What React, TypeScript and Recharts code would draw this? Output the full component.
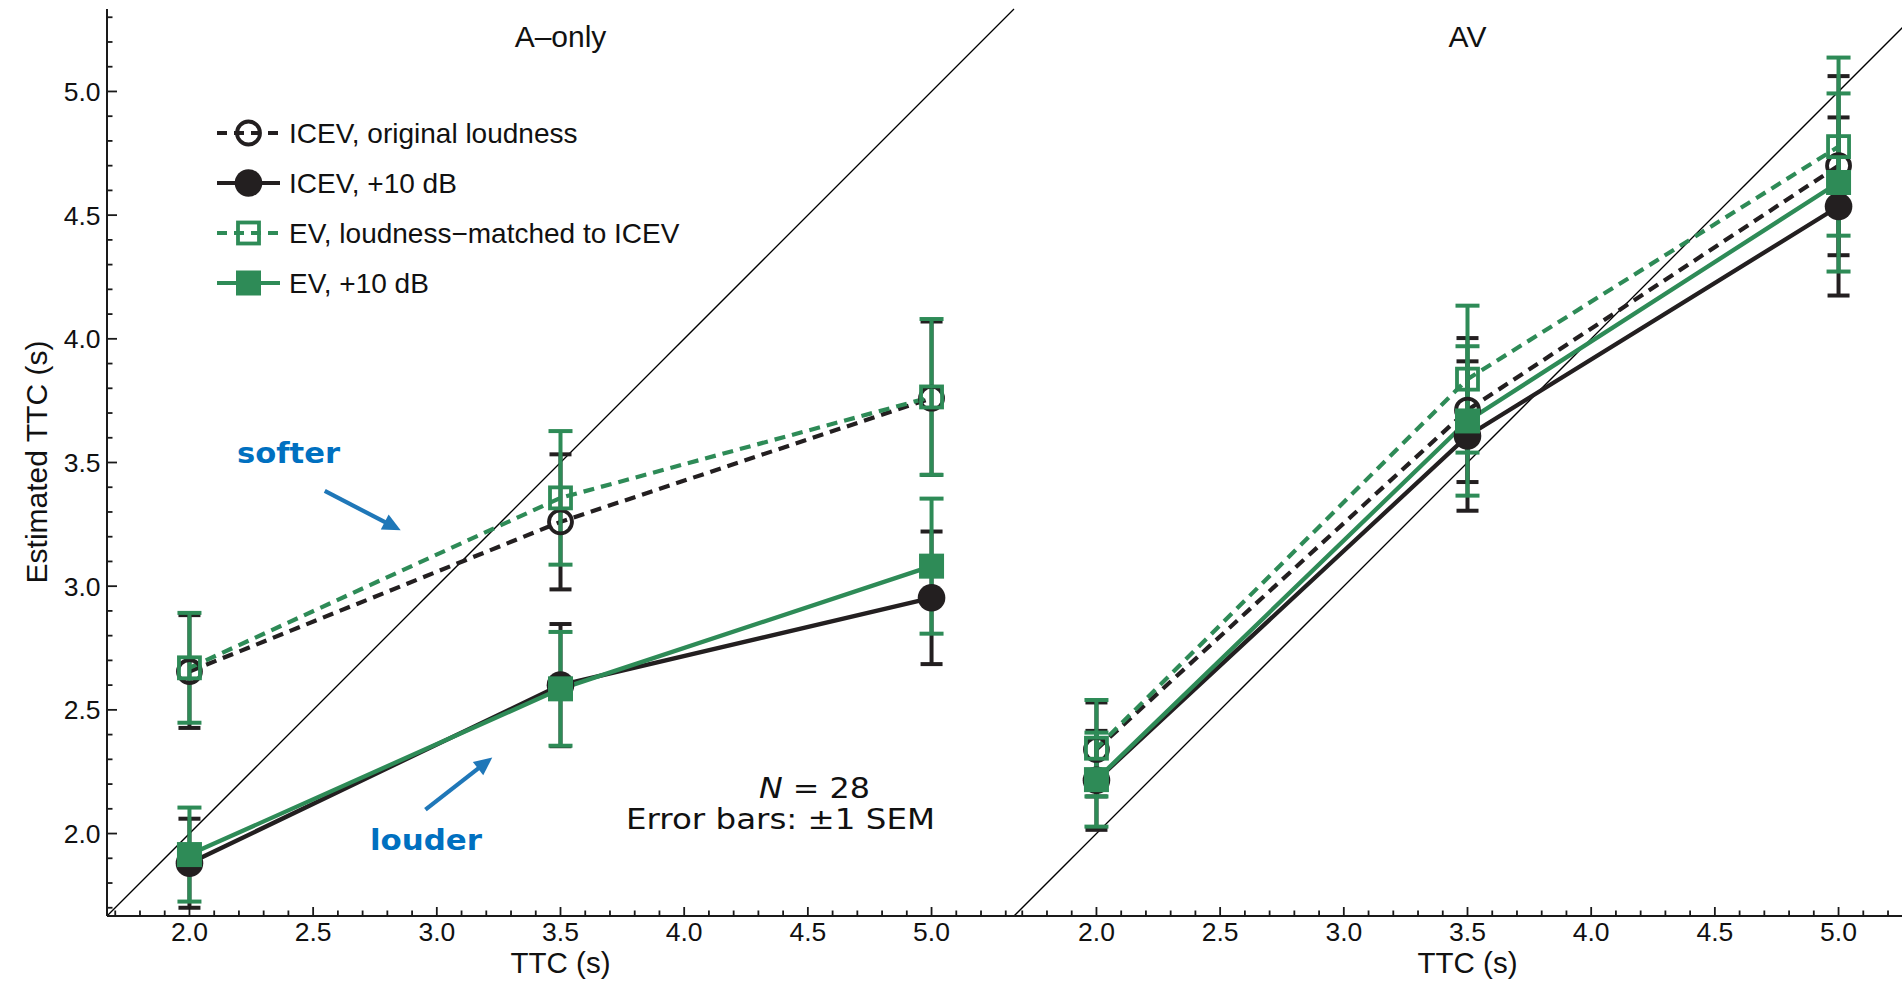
import React from 'react';
import { LineChart, Line, XAxis, YAxis, ErrorBar, ReferenceLine, Legend } from 'recharts';

// ---------- data ----------
const TTC_LEVELS = [2.0, 3.5, 5.0];

// A-only panel (means and ±1 SEM)
const A_ICEV_ORIG = [2.655, 3.26, 3.76];
const A_ICEV_ORIG_SEM = [0.228, 0.273, 0.31];
const A_ICEV_LOUD = [1.88, 2.6, 2.953];
const A_ICEV_LOUD_SEM = [0.18, 0.247, 0.268];
const A_EV_MATCH = [2.67, 3.357, 3.765];
const A_EV_MATCH_SEM = [0.222, 0.27, 0.315];
const A_EV_LOUD = [1.915, 2.585, 3.081];
const A_EV_LOUD_SEM = [0.19, 0.23, 0.273];

// AV panel
const AV_ICEV_ORIG = [2.34, 3.712, 4.7];
const AV_ICEV_ORIG_SEM = [0.19, 0.291, 0.362];
const AV_ICEV_LOUD = [2.215, 3.607, 4.535];
const AV_ICEV_LOUD_SEM = [0.2, 0.302, 0.36];
const AV_EV_MATCH = [2.345, 3.837, 4.777];
const AV_EV_MATCH_SEM = [0.195, 0.297, 0.36];
const AV_EV_LOUD = [2.218, 3.668, 4.632];
const AV_EV_LOUD_SEM = [0.19, 0.302, 0.36];

const AXIS_TICKS = [
  1.7, 1.8, 1.9, 2.0, 2.1, 2.2, 2.3, 2.4, 2.5, 2.6, 2.7, 2.8, 2.9, 3.0, 3.1, 3.2, 3.3, 3.4, 3.5,
  3.6, 3.7, 3.8, 3.9, 4.0, 4.1, 4.2, 4.3, 4.4, 4.5, 4.6, 4.7, 4.8, 4.9, 5.0, 5.1, 5.2, 5.3,
];
const MAJOR_TICKS = [2.0, 2.5, 3.0, 3.5, 4.0, 4.5, 5.0];
const DOMAIN: [number, number] = [5 / 3, 16 / 3];

const SERIES_NAMES = ['ICEV, original loudness', 'ICEV, +10 dB', 'EV, loudness\u2212matched to ICEV', 'EV, +10 dB'];
const PANEL_TITLES = ['A\u2013only', 'AV'];
const AXIS_TITLE_X = 'TTC (s)';
const AXIS_TITLE_Y = 'Estimated TTC (s)';

// annotation arrows (data coordinates of A-only panel): tail -> tip
const SOFTER_ARROW = [{ x: 2.547, y: 3.385 }, { x: 2.854, y: 3.226 }];
const LOUDER_ARROW = [{ x: 2.954, y: 2.097 }, { x: 3.224, y: 2.307 }];

// ---------- styles ----------
const DARK = '#231f20';
const GREEN = '#2e8b57';
const BLUE_TEXT = '#0070c0';
const BLUE_ARROW = '#1f77b8';
const SANS = '"Liberation Sans", Arial, Helvetica, sans-serif';
const VERD = '"DejaVu Sans", Verdana, sans-serif';

type MarkerKind = 'openCircle' | 'filledCircle' | 'openSquare' | 'filledSquare';

const SERIES_STYLE: { color: string; dashed: boolean; marker: MarkerKind; cap: number }[] = [
  { color: DARK, dashed: true, marker: 'openCircle', cap: 11 },
  { color: DARK, dashed: false, marker: 'filledCircle', cap: 11 },
  { color: GREEN, dashed: true, marker: 'openSquare', cap: 12 },
  { color: GREEN, dashed: false, marker: 'filledSquare', cap: 12 },
];

const DASH = '11 7';

function Marker({ kind, cx, cy, color }: { kind: MarkerKind; cx: number; cy: number; color: string }) {
  if (cx == null || cy == null || isNaN(cx) || isNaN(cy)) return null;
  switch (kind) {
    case 'openCircle':
      return <circle cx={cx} cy={cy} r={11.5} fill="none" stroke={color} strokeWidth={3.8} />;
    case 'filledCircle':
      return <circle cx={cx} cy={cy} r={13.8} fill={color} stroke="none" />;
    case 'openSquare':
      return <rect x={cx - 10.5} y={cy - 10.5} width={21} height={21} fill="none" stroke={color} strokeWidth={3.8} />;
    default:
      return <rect x={cx - 12.5} y={cy - 12.5} width={25} height={25} fill={color} stroke="none" />;
  }
}

const isMajor = (v: number) => MAJOR_TICKS.some((m) => Math.abs(m - v) < 1e-6);
const MAJ = 9;
const MIN = 5.5;
const TICK_STROKE = { stroke: '#1a1a1a', strokeWidth: 1.8 };
const AXIS_LINE = { stroke: '#1a1a1a', strokeWidth: 2 };

const BottomTick = (p: any) => {
  const v = p.payload.value;
  const maj = isMajor(v);
  return (
    <g>
      <line x1={p.x} y1={p.y} x2={p.x} y2={p.y - (maj ? MAJ : MIN)} {...TICK_STROKE} />
      {maj && (
        <text x={p.x} y={p.y + 25} textAnchor="middle" fontSize={26.5} fontFamily={SANS} fill="#111">
          {v.toFixed(1)}
        </text>
      )}
    </g>
  );
};
const TopTick = (p: any) => {
  const maj = isMajor(p.payload.value);
  return <line x1={p.x} y1={p.y} x2={p.x} y2={p.y + (maj ? MAJ : MIN)} {...TICK_STROKE} />;
};
const LeftTickLabeled = (p: any) => {
  const v = p.payload.value;
  const maj = isMajor(v);
  return (
    <g>
      <line x1={p.x} y1={p.y} x2={p.x + (maj ? MAJ + 1 : MIN)} y2={p.y} {...TICK_STROKE} />
      {maj && (
        <text x={p.x - 6.5} y={p.y + 9.5} textAnchor="end" fontSize={26.5} fontFamily={SANS} fill="#111">
          {v.toFixed(1)}
        </text>
      )}
    </g>
  );
};
const LeftTick = (p: any) => {
  const maj = isMajor(p.payload.value);
  return <line x1={p.x} y1={p.y} x2={p.x + (maj ? MAJ + 1 : MIN)} y2={p.y} {...TICK_STROKE} />;
};
const RightTick = (p: any) => {
  const maj = isMajor(p.payload.value);
  return <line x1={p.x} y1={p.y} x2={p.x - (maj ? MAJ + 1 : MIN)} y2={p.y} {...TICK_STROKE} />;
};

const ArrowShape = (p: any) => {
  const { x1, y1, x2, y2 } = p;
  if ([x1, y1, x2, y2].some((v) => v == null || isNaN(v))) return null;
  const dx = x2 - x1;
  const dy = y2 - y1;
  const L = Math.hypot(dx, dy) || 1;
  const ux = dx / L;
  const uy = dy / L;
  const head = 18;
  const hw = 8.5;
  const bx = x2 - ux * head;
  const by = y2 - uy * head;
  return (
    <g>
      <line x1={x1} y1={y1} x2={bx + ux * 2} y2={by + uy * 2} stroke={BLUE_ARROW} strokeWidth={4.2} />
      <polygon points={`${x2},${y2} ${bx - uy * hw},${by + ux * hw} ${bx + uy * hw},${by - ux * hw}`} fill={BLUE_ARROW} />
    </g>
  );
};

const LegendContent = (props: any) => {
  const payload: any[] = props.payload && props.payload.length ? props.payload : [];
  const names = SERIES_NAMES.filter((n) => payload.length === 0 || payload.some((e) => e.value === n));
  return (
    <svg width={520} height={200} style={{ display: 'block', overflow: 'visible' }}>
      {names.map((name, i) => {
        const st = SERIES_STYLE[SERIES_NAMES.indexOf(name)];
        const cy = 25 + i * 50;
        return (
          <g key={name}>
            <line x1={17} y1={cy} x2={80} y2={cy} stroke={st.color} strokeWidth={4} strokeDasharray={st.dashed ? '10 7' : undefined} />
            <Marker kind={st.marker} cx={48.5} cy={cy} color={st.color} />
            <text x={89} y={cy + 10} fontSize={28} fontFamily={SANS} fill="#111">
              {name}
            </text>
          </g>
        );
      })}
    </svg>
  );
};

const buildRows = (means: number[], sems: number[]) => TTC_LEVELS.map((x, i) => ({ x, y: means[i], sem: sems[i] }));

type PanelProps = {
  left: number;
  width: number;
  yAxisWidth: number;
  labeled: boolean;
  series: { means: number[]; sems: number[] }[];
  annotations: boolean;
};

function Panel({ left, width, yAxisWidth, labeled, series, annotations }: PanelProps) {
  return (
    <div style={{ position: 'absolute', left, top: 0 }}>
      <LineChart width={width} height={981} margin={{ top: 9, right: 16, bottom: 0, left: 0 }}>
        <XAxis
          xAxisId="b"
          dataKey="x"
          type="number"
          domain={DOMAIN}
          allowDataOverflow
          ticks={AXIS_TICKS}
          interval={0}
          orientation="bottom"
          height={65}
          tickSize={0}
          tickMargin={0}
          tickLine={false}
          axisLine={AXIS_LINE}
          tick={BottomTick}
        />
        <XAxis
          xAxisId="t"
          dataKey="x"
          type="number"
          domain={DOMAIN}
          allowDataOverflow
          ticks={AXIS_TICKS}
          interval={0}
          orientation="top"
          height={0}
          tickSize={0}
          tickMargin={0}
          tickLine={false}
          axisLine={AXIS_LINE}
          tick={TopTick}
        />
        <YAxis
          yAxisId="l"
          type="number"
          domain={DOMAIN}
          allowDataOverflow
          ticks={AXIS_TICKS}
          interval={0}
          orientation="left"
          width={yAxisWidth}
          tickSize={0}
          tickMargin={0}
          tickLine={false}
          axisLine={AXIS_LINE}
          tick={labeled ? LeftTickLabeled : LeftTick}
        />
        <YAxis
          yAxisId="r"
          type="number"
          domain={DOMAIN}
          allowDataOverflow
          ticks={AXIS_TICKS}
          interval={0}
          orientation="right"
          width={0}
          tickSize={0}
          tickMargin={0}
          tickLine={false}
          axisLine={AXIS_LINE}
          tick={RightTick}
        />
        <ReferenceLine
          xAxisId="b"
          yAxisId="l"
          segment={[
            { x: DOMAIN[0], y: DOMAIN[0] },
            { x: DOMAIN[1], y: DOMAIN[1] },
          ]}
          stroke="#000"
          strokeWidth={1.3}
          ifOverflow="visible"
        />
        {series.map((s, i) => {
          const st = SERIES_STYLE[i];
          const name = SERIES_NAMES[i];
          return (
            <Line
              key={name}
              xAxisId="b"
              yAxisId="l"
              name={name}
              data={buildRows(s.means, s.sems)}
              dataKey="y"
              stroke={st.color}
              strokeWidth={st.dashed ? 4.2 : 4.3}
              strokeDasharray={st.dashed ? DASH : undefined}
              isAnimationActive={false}
              activeDot={false}
              dot={(p: any) => <Marker key={`${name}-${p.index}`} kind={st.marker} cx={p.cx} cy={p.cy} color={st.color} />}
            >
              <ErrorBar dataKey="sem" direction="y" width={st.cap} strokeWidth={4} stroke={st.color} isAnimationActive={false} />
            </Line>
          );
        })}
        {annotations && (
          <ReferenceLine xAxisId="b" yAxisId="l" segment={SOFTER_ARROW} ifOverflow="visible" shape={ArrowShape} />
        )}
        {annotations && (
          <ReferenceLine xAxisId="b" yAxisId="l" segment={LOUDER_ARROW} ifOverflow="visible" shape={ArrowShape} />
        )}
        {annotations && (
          <Legend
            layout="vertical"
            align="center"
            verticalAlign="middle"
            content={LegendContent}
            wrapperStyle={{ position: 'absolute', left: 200, top: 108, width: 520, height: 200 }}
          />
        )}
      </LineChart>
    </div>
  );
}

export default function App() {
  const aSeries = [
    { means: A_ICEV_ORIG, sems: A_ICEV_ORIG_SEM },
    { means: A_ICEV_LOUD, sems: A_ICEV_LOUD_SEM },
    { means: A_EV_MATCH, sems: A_EV_MATCH_SEM },
    { means: A_EV_LOUD, sems: A_EV_LOUD_SEM },
  ];
  const avSeries = [
    { means: AV_ICEV_ORIG, sems: AV_ICEV_ORIG_SEM },
    { means: AV_ICEV_LOUD, sems: AV_ICEV_LOUD_SEM },
    { means: AV_EV_MATCH, sems: AV_EV_MATCH_SEM },
    { means: AV_EV_LOUD, sems: AV_EV_LOUD_SEM },
  ];
  return (
    <div style={{ position: 'absolute', left: 0, top: 0, width: 1902, height: 981, overflow: 'hidden', background: '#fff' }}>
      <Panel left={1014} width={923} yAxisWidth={0} labeled={false} series={avSeries} annotations={false} />
      <Panel left={0} width={1030} yAxisWidth={107} labeled={true} series={aSeries} annotations={true} />
      <svg width={1902} height={981} style={{ position: 'absolute', left: 0, top: 0, pointerEvents: 'none' }}>
        <text x={560.5} y={47} textAnchor="middle" fontSize={30} fontFamily={SANS} fill="#111">
          {PANEL_TITLES[0]}
        </text>
        <text x={1467.5} y={47} textAnchor="middle" fontSize={30} fontFamily={SANS} fill="#111">
          {PANEL_TITLES[1]}
        </text>
        <text x={560.5} y={973} textAnchor="middle" fontSize={29.5} fontFamily={SANS} fill="#111">
          {AXIS_TITLE_X}
        </text>
        <text x={1467.5} y={973} textAnchor="middle" fontSize={29.5} fontFamily={SANS} fill="#111">
          {AXIS_TITLE_X}
        </text>
        <text transform="translate(47,462) rotate(-90)" textAnchor="middle" fontSize={30} fontFamily={SANS} fill="#111">
          {AXIS_TITLE_Y}
        </text>
        <text x={237} y={462.7} fontSize={29} fontWeight="bold" fontFamily={VERD} fill={BLUE_TEXT} textLength={103} lengthAdjust="spacingAndGlyphs">
          softer
        </text>
        <text x={370} y={850} fontSize={29} fontWeight="bold" fontFamily={VERD} fill={BLUE_TEXT} textLength={112} lengthAdjust="spacingAndGlyphs">
          louder
        </text>
        <text x={759} y={798.3} fontSize={29} fontFamily={VERD} fill="#111" textLength={111} lengthAdjust="spacingAndGlyphs">
          <tspan fontStyle="italic">N</tspan> = 28
        </text>
        <text x={626} y={829.3} fontSize={29} fontFamily={VERD} fill="#111" textLength={309} lengthAdjust="spacingAndGlyphs">
          Error bars: ±1 SEM
        </text>
      </svg>
    </div>
  );
}
